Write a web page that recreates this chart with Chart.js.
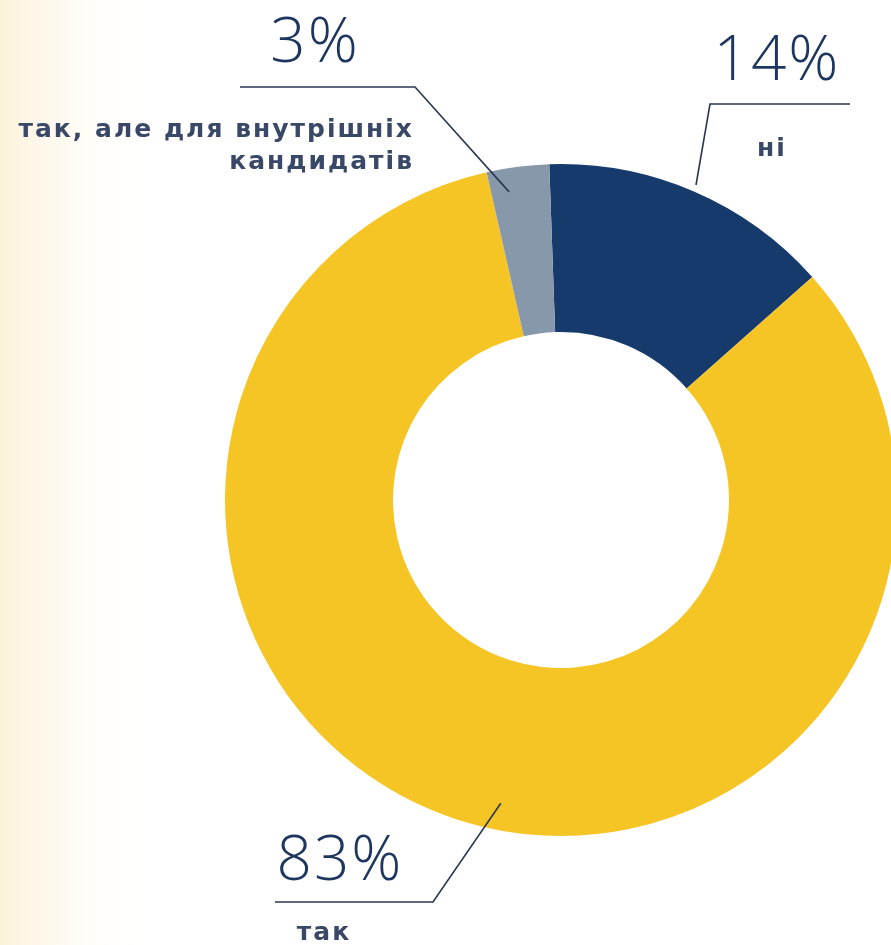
<!DOCTYPE html>
<html>
<head>
<meta charset="utf-8">
<script src="https://cdn.jsdelivr.net/npm/chart.js@4/dist/chart.umd.min.js"></script>
<style>
  html, body { margin: 0; padding: 0; width: 891px; height: 945px; overflow: hidden; }
  body { background: linear-gradient(to right, #fdf3da 0px, #fef8ec 45px, #fffdf8 90px, #ffffff 140px); }
  #wrap { position: absolute; left: 0; top: 0; width: 900px; height: 945px; }
</style>
</head>
<body>
<div id="wrap"><canvas id="chart"></canvas></div>
<script>
// data
const categories = ["ні", "так", "так, але для внутрішніх кандидатів"];
const values = [14, 83, 3];
const colors = ["#173a6c", "#f5c526", "#8798aa"];
const pctLabels = ["14%", "83%", "3%"];
const nameLines = [["ні"], ["так"], ["так, але для внутрішніх", "кандидатів"]];

// label layout: where the leader hits the arc (t along arc, r as share of radius),
// the horizontal shelf, the percent text and the name text
const callouts = [
  { t: 0.5, r: 1.02, shelf: [850, 710, 104], pct: [777, 80, "center"], name: [772, 156, "center"] },
  { t: 0.478, r: 0.92, shelf: [275, 433, 902], pct: [340, 880, "center"], name: [324, 940, "center"] },
  { t: 0.3, r: 0.93, shelf: [240, 415, 87], pct: [315, 62, "center"], name: [414, 137, "right"] },
];

const calloutPlugin = {
  id: "callouts",
  afterDraw(chart) {
    const ctx = chart.ctx;
    const meta = chart.getDatasetMeta(0);
    ctx.save();
    callouts.forEach((c, i) => {
      const arc = meta.data[i];
      const a = arc.startAngle + (arc.endAngle - arc.startAngle) * c.t;
      const rad = arc.outerRadius * c.r;
      const ax = arc.x + Math.cos(a) * rad;
      const ay = arc.y + Math.sin(a) * rad;

      // leader line
      ctx.strokeStyle = "#2b3652";
      ctx.lineWidth = 1.6;
      ctx.beginPath();
      ctx.moveTo(c.shelf[0], c.shelf[2]);
      ctx.lineTo(c.shelf[1], c.shelf[2]);
      ctx.lineTo(ax, ay);
      ctx.stroke();

      // percent
      ctx.fillStyle = "#1d365f";
      ctx.font = "300 62px 'Open Sans'";
      ctx.letterSpacing = "2px";
      ctx.textAlign = c.pct[2];
      ctx.textBaseline = "alphabetic";
      ctx.fillText(pctLabels[i], c.pct[0], c.pct[1]);

      // category name
      ctx.fillStyle = "#3a4867";
      ctx.font = "bold 25px 'DejaVu Sans'";
      ctx.letterSpacing = "2px";
      ctx.textAlign = c.name[2];
      nameLines[i].forEach((line, k) => {
        ctx.fillText(line, c.name[0], c.name[1] + k * 32);
      });
    });
    ctx.restore();
  },
};

new Chart(document.getElementById("chart"), {
  type: "doughnut",
  data: {
    labels: categories,
    datasets: [{
      data: values,
      backgroundColor: colors,
      borderWidth: 0,
      hoverOffset: 0,
    }],
  },
  options: {
    responsive: true,
    maintainAspectRatio: false,
    animation: false,
    cutout: "50%",
    rotation: -2,
    layout: { padding: { left: 225, right: 3, top: 164, bottom: 109 } },
    plugins: {
      legend: { display: false },
      tooltip: { enabled: false },
    },
  },
  plugins: [calloutPlugin],
});
</script>
</body>
</html>
